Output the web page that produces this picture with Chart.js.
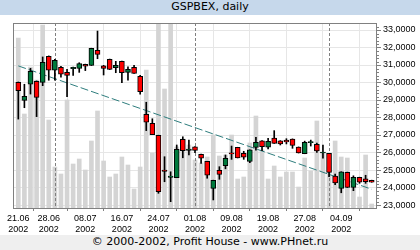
<!DOCTYPE html>
<html>
<head>
<meta charset="utf-8">
<script src="https://cdn.jsdelivr.net/npm/chart.js@4.4.0/dist/chart.umd.min.js"></script>
<style>
    html, body { margin: 0; padding: 0; background: #fff; }
    #wrap { position: relative; width: 420px; height: 250px; overflow: hidden; }
    #title { height: 15px; line-height: 15px; background: #c6d8eb; text-align: center; font: 11px "DejaVu Sans"; color: #000; }
    #plot { position: absolute; left: 0; top: 15px; width: 420px; height: 220px; }
    #footer { position: absolute; left: 0; top: 235px; width: 420px; height: 15px; line-height: 15px; background: #efefef; text-align: center; font: 11px "DejaVu Sans"; color: #000; }
</style>
</head>
<body>
<div id="wrap">
    <div id="title">GSPBEX, daily</div>
    <div id="plot"><canvas id="chart" width="420" height="220"></canvas></div>
    <div id="footer">© 2000-2002, Profit House - www.PHnet.ru</div>
</div>
<script>
// trading days, 21.06.2002 - 11.09.2002
const dates = [
    '21.06', '24.06', '25.06', '26.06', '27.06', '28.06',
    '01.07', '02.07', '03.07', '04.07', '05.07',
    '08.07', '09.07', '10.07', '11.07', '12.07',
    '15.07', '16.07', '17.07', '18.07', '19.07',
    '22.07', '23.07', '24.07', '25.07', '26.07',
    '29.07', '30.07', '31.07', '01.08', '02.08',
    '05.08', '06.08', '07.08', '08.08', '09.08',
    '12.08', '13.08', '14.08', '15.08', '16.08',
    '19.08', '20.08', '21.08', '22.08', '23.08',
    '26.08', '27.08', '28.08', '29.08', '30.08',
    '02.09', '03.09', '04.09', '05.09', '06.09',
    '09.09', '10.09', '11.09'
];

const opens = [
    30010, 28980, 29900, 30070, 30010, 31500,
    30700, 30870, 30580, 30790, 30810,
    31040, 30980, 31840, 30960, 31320,
    30850, 31210, 30580, 30870, 30350,
    28180, 27670, 26980, 25000, 24580,
    24560, 26750, 26120, 26330, 25900,
    25490, 23950, 24980, 25250, 25980,
    26290, 25950, 25490, 26290, 26670,
    26310, 26830, 26670, 26710, 26770,
    26310, 25930, 26560, 26470, 25970,
    25950, 24660, 23950, 24870, 24010,
    24580, 24490, 24410
];
const highs = [
    30030, 29900, 30810, 30090, 31460, 31520,
    31330, 30930, 30750, 30880, 31130,
    31050, 31960, 32940, 30980, 31340,
    31210, 31220, 30900, 30980, 30410,
    28870, 27930, 26990, 25760, 24900,
    26430, 26900, 26710, 26340, 25910,
    25500, 24420, 25190, 25860, 26370,
    26300, 26070, 26160, 26870, 26680,
    26810, 27250, 26680, 26790, 26780,
    26320, 26650, 26710, 26540, 26430,
    25960, 24770, 24900, 24880, 24670,
    24590, 24700, 24420
];
const lows = [
    27910, 28560, 29340, 28050, 29820, 30130,
    30130, 30300, 29190, 30410, 30580,
    30680, 30970, 31360, 30430, 30740,
    30560, 29990, 30140, 30520, 29340,
    27250, 27020, 23670, 24330, 23190,
    24560, 25700, 25860, 25990, 25380,
    24530, 23290, 24470, 25070, 25610,
    25690, 25610, 25420, 26140, 26100,
    26200, 26520, 26430, 26490, 26240,
    25970, 25930, 26370, 26000, 25670,
    24620, 24160, 23700, 24000, 23820,
    24240, 24240, 24300
];
const closes = [
    29530, 29210, 30640, 29150, 31150, 30700,
    31270, 30470, 30410, 30870, 31080,
    30930, 31950, 31610, 30810, 30750,
    30980, 30560, 30750, 30520, 29470,
    27730, 27020, 23760, 24920, 24660,
    26180, 26100, 26200, 26120, 25670,
    24700, 24410, 24750, 25670, 25920,
    25690, 25730, 26160, 26580, 26330,
    26640, 26520, 26490, 26600, 26410,
    25970, 26580, 26620, 26090, 26030,
    24870, 24270, 24900, 24010, 24580,
    24310, 24330, 24300
];
const volumes = [
    170, 94, 141, 128, 183, 88,
    41, 34, 108, 44, 49,
    38, 67, 97, 47, 31,
    34, 51, 43, 19, 41,
    138, 55, 190, 119, 190,
    61, 69, 63, 48, 45,
    51, 73, 52, 53, 73,
    29, 31, 65, 92, 58,
    29, 42, 31, 36, 36,
    21, 50, 37, 87, 55,
    41, 67, 51, 50, 30,
    11, 53, 4
];

// dashed trend line
const trendDays = ['21.06', '11.09'];
const trendValues = [30950, 23900];

const xTickDates = ['21.06', '28.06', '08.07', '16.07', '24.07', '01.08', '09.08', '19.08', '27.08', '04.09'];
const monthStarts = ['01.07', '01.08', '02.09'];
const yTicks = [23000, 24000, 25000, 26000, 27000, 28000, 29000, 30000, 31000, 32000, 33000];

const UP = '#007a3d';
const DOWN = '#ff0000';
const FONT = { family: 'Liberation Sans', size: 9, lineHeight: 1.2 };

const idx = dates.map((d, i) => i);

// month separators go over the volume bars, under the candles
const monthLines = {
    id: 'monthLines',
    afterDatasetDraw(chart, args) {
        if (args.index !== 3) return;
        const { ctx, chartArea, scales } = chart;
        ctx.save();
        ctx.strokeStyle = '#7f7f7f';
        ctx.lineWidth = 1;
        ctx.setLineDash([3, 2]);
        monthStarts.forEach(d => {
            const x = Math.round(scales.x.getPixelForValue(dates.indexOf(d))) + 0.5;
            ctx.beginPath();
            ctx.moveTo(x, chartArea.top);
            ctx.lineTo(x, chartArea.bottom);
            ctx.stroke();
        });
        ctx.restore();
    }
};

const frame = {
    id: 'frame',
    afterDraw(chart) {
        const { ctx, chartArea, scales } = chart;
        ctx.save();
        ctx.strokeStyle = '#808080';
        ctx.lineWidth = 1;
        // minor ticks on the price axis
        for (let v = 23000; v < 33400; v += 200) {
            if (v % 1000 === 0) continue;
            const y = Math.round(scales.y.getPixelForValue(v)) + 0.5;
            ctx.beginPath();
            ctx.moveTo(chartArea.right, y);
            ctx.lineTo(chartArea.right + 2, y);
            ctx.stroke();
        }
        ctx.strokeRect(chartArea.left + 0.5, chartArea.top + 0.5,
            chartArea.right - chartArea.left - 1, chartArea.bottom - chartArea.top);
        ctx.restore();
    }
};

new Chart(document.getElementById('chart'), {
    type: 'bar',
    data: {
        datasets: [
            {
                label: 'Body',
                data: idx.map(i => ({ x: i, y: [opens[i], closes[i]] })),
                backgroundColor: idx.map(i => closes[i] >= opens[i] ? UP : DOWN),
                borderColor: '#000',
                borderWidth: 1,
                borderSkipped: false,
                barThickness: 5,
                grouped: false,
                order: 0,
                yAxisID: 'y'
            },
            {
                label: 'Wick',
                data: idx.map(i => ({ x: i, y: [lows[i], highs[i]] })),
                backgroundColor: '#000',
                barThickness: 1,
                grouped: false,
                order: 1,
                yAxisID: 'y'
            },
            {
                type: 'line',
                label: 'Trend',
                data: trendDays.map((d, k) => ({ x: dates.indexOf(d), y: trendValues[k] })),
                borderColor: '#2e7d7d',
                borderWidth: 1,
                borderDash: [8, 3],
                pointRadius: 0,
                order: 2,
                yAxisID: 'y'
            },
            {
                label: 'Volume',
                data: idx.map(i => ({ x: i, y: volumes[i] })),
                backgroundColor: '#d4d4d4',
                barThickness: 4,
                grouped: false,
                order: 3,
                yAxisID: 'yVol'
            }
        ]
    },
    options: {
        responsive: false,
        animation: false,
        layout: { padding: { left: 13, top: 8, right: 0, bottom: 0 } },
        plugins: { legend: { display: false }, tooltip: { enabled: false } },
        scales: {
            x: {
                type: 'linear',
                min: -0.87,
                max: 58.87,
                offset: false,
                afterBuildTicks: s => { s.ticks = xTickDates.map(d => ({ value: dates.indexOf(d) })); },
                afterFit: s => { s.height = 27; },
                ticks: {
                    autoSkip: false,
                    maxRotation: 0,
                    padding: 2,
                    color: '#000',
                    font: FONT,
                    callback: v => [dates[v], '2002']
                },
                grid: { color: '#e6e6e6', tickColor: '#808080', tickLength: 3 },
                border: { display: false }
            },
            y: {
                position: 'right',
                min: 22830,
                max: 33400,
                afterBuildTicks: s => { s.ticks = yTicks.map(v => ({ value: v })); },
                afterFit: s => { s.width = 43; },
                ticks: {
                    padding: 2,
                    color: '#000',
                    font: FONT,
                    callback: v => (v / 1000) + ',0000'
                },
                grid: { color: '#e6e6e6', tickColor: '#808080', tickLength: 4 },
                border: { display: false }
            },
            yVol: { display: false, min: 0, max: 185 }
        }
    },
    plugins: [monthLines, frame]
});
</script>
</body>
</html>
